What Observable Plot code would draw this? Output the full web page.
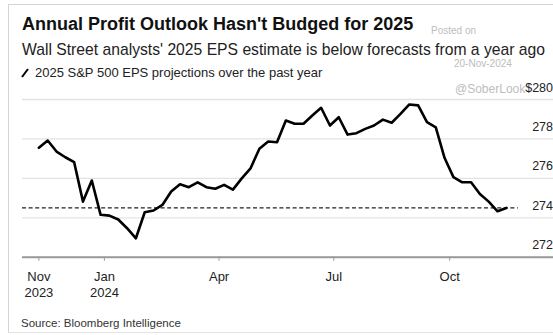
<!DOCTYPE html>
<html>
<head>
<meta charset="utf-8">
<script src="https://cdn.jsdelivr.net/npm/d3@7"></script>
<script src="https://cdn.jsdelivr.net/npm/@observablehq/plot@0.6"></script>
<style>
  html, body { margin: 0; padding: 0; background: #fff; overflow: hidden; }
  body { width: 553px; height: 335px; position: relative; font-family: "Liberation Sans", Arial, Helvetica, sans-serif; }
  .abs { position: absolute; line-height: 1; white-space: nowrap; }
  #frame { position: absolute; left: 8px; top: 4px; width: 560px; height: 329px; border-top: 1px solid #d4d4d4; border-left: 1px solid #d4d4d4; border-bottom: 1px solid #e4e4e4; box-sizing: border-box; }
  #title { left: 22px; top: 14.5px; font-size: 18px; font-weight: bold; color: #111; }
  #subtitle { left: 22px; top: 41.5px; font-size: 15.7px; color: #222; }
  #legend { left: 21px; top: 66px; font-size: 13px; color: #222; display: flex; align-items: center; }
  #legend svg { margin-right: 6px; }
  #source { left: 21px; top: 317.5px; font-size: 11.5px; color: #333; }
  .wm { color: #bdbdbd; }
  #chart { position: absolute; left: 0; top: 80px; }
</style>
</head>
<body>
<div id="frame"></div>
<div class="abs" id="title">Annual Profit Outlook Hasn't Budged for 2025</div>
<div class="abs" id="subtitle">Wall Street analysts' 2025 EPS estimate is below forecasts from a year ago</div>
<div class="abs" id="legend"><svg width="8" height="10"><line x1="1" y1="9" x2="7" y2="1" stroke="#000" stroke-width="2"/></svg><span>2025 S&amp;P 500 EPS projections over the past year</span></div>
<div class="abs wm" style="left:431px; top:26px; font-size:10px;">Posted on</div>
<div class="abs wm" style="left:454px; top:59px; font-size:10px;">20-Nov-2024</div>
<div class="abs wm" style="left:455px; top:83px; font-size:12px;">@SoberLook</div>
<div id="chart"></div>
<div class="abs" id="source">Source: Bloomberg Intelligence</div>
<script>
// Weekly observation dates
const dates = [
  "2023-11-10","2023-11-17","2023-11-24","2023-12-01","2023-12-08","2023-12-15","2023-12-22","2023-12-29",
  "2024-01-05","2024-01-12","2024-01-19","2024-01-26","2024-02-02","2024-02-09","2024-02-16","2024-02-23",
  "2024-03-01","2024-03-08","2024-03-15","2024-03-22","2024-03-29","2024-04-05","2024-04-12","2024-04-19",
  "2024-04-26","2024-05-03","2024-05-10","2024-05-17","2024-05-24","2024-05-31","2024-06-07","2024-06-14",
  "2024-06-21","2024-06-28","2024-07-05","2024-07-12","2024-07-19","2024-07-26","2024-08-02","2024-08-09",
  "2024-08-16","2024-08-23","2024-08-30","2024-09-06","2024-09-13","2024-09-20","2024-09-27","2024-10-04",
  "2024-10-11","2024-10-18","2024-10-25","2024-11-01","2024-11-08","2024-11-15"
];
// 2025 S&P 500 EPS projection ($)
const eps = [
  277.55, 277.92, 277.36, 277.07, 276.82, 274.82, 275.89, 274.15,
  274.11, 273.91, 273.47, 272.96, 274.28, 274.37, 274.65, 275.33,
  275.70, 275.55, 275.80, 275.55, 275.47, 275.67, 275.43, 276.00,
  276.51, 277.50, 277.87, 277.83, 278.93, 278.77, 278.77, 279.19,
  279.58, 278.68, 279.10, 278.22, 278.29, 278.51, 278.68, 278.98,
  278.82, 279.27, 279.75, 279.70, 278.85, 278.59, 277.03, 276.06,
  275.80, 275.80, 275.21, 274.82, 274.33, 274.50
];
// Reference level (dashed)
const refLevel = 274.5;
const refSpan = ["2023-10-28", "2024-11-24T12:00"];
// Axes
const xDomain = ["2023-10-28", "2024-12-22T10:00"];
const yDomain = [272, 280];
const yTicks = [272, 274, 276, 278, 280];
const xTickDates = ["2023-11-10", "2024-01-01", "2024-04-01", "2024-07-01", "2024-10-01"];
const xTickLabels = ["Nov\n2023", "Jan\n2024", "Apr", "Jul", "Oct"];

const data = dates.map((d, i) => ({date: new Date(d), value: eps[i]}));
const ref = [{y: refLevel, x1: new Date(refSpan[0]), x2: new Date(refSpan[1])}];
const xt = xTickDates.map(d => new Date(d));
const labelOf = new Map(xt.map((d, i) => [+d, xTickLabels[i]]));

const chart = Plot.plot({
  width: 553,
  height: 225,
  marginLeft: 22,
  marginRight: 0,
  marginTop: 19,
  marginBottom: 48.3,
  style: {fontFamily: '"Liberation Sans", Arial, sans-serif', background: "transparent", color: "#222"},
  x: {type: "utc", domain: xDomain.map(d => new Date(d))},
  y: {domain: yDomain},
  marks: [
    Plot.gridY(yTicks, {stroke: "#e3e3e3", strokeOpacity: 1, strokeWidth: 1.3}),
    Plot.ruleY(ref, {y: "y", x1: "x1", x2: "x2", stroke: "#222", strokeWidth: 1.4, strokeDasharray: "4,2.6"}),
    Plot.ruleY([yDomain[0]], {stroke: "#9a9a9a", strokeWidth: 2}),
    Plot.axisX(xt, {
      tickSize: 4, tickPadding: 9, stroke: "#9a9a9a", fontSize: 13, lineHeight: 1.2,
      fill: "#222", tickFormat: d => labelOf.get(+d), label: null
    }),
    Plot.axisY(yTicks, {
      anchor: "right", tickSize: 0, tickPadding: -0.5, textAnchor: "end", dy: -12,
      fontSize: 12.5, fill: "#222", label: null,
      tickFormat: d => d === 280 ? "$" + d : String(d)
    }),
    Plot.lineY(data, {x: "date", y: "value", stroke: "#000", strokeWidth: 2.6, strokeLinejoin: "round", strokeLinecap: "round"})
  ]
});
document.getElementById("chart").appendChild(chart);
</script>
</body>
</html>
